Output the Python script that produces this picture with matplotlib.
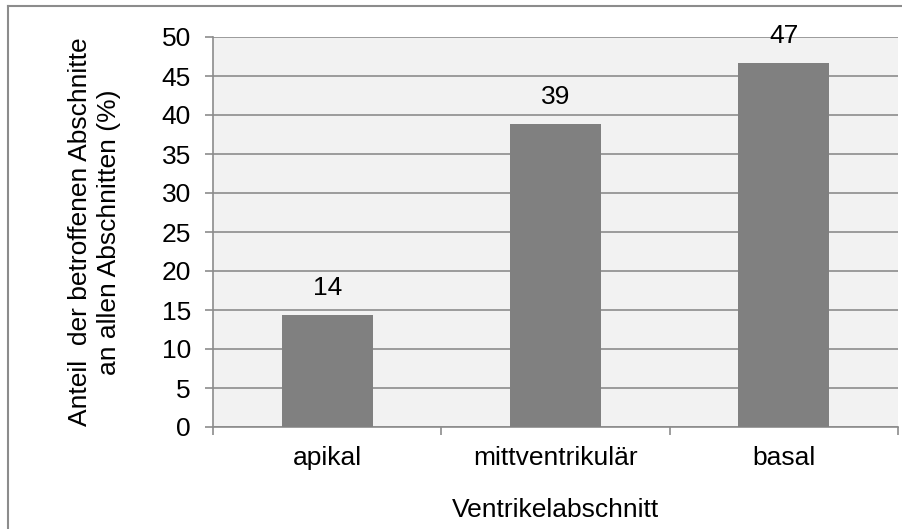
import matplotlib.pyplot as plt
from matplotlib.lines import Line2D

# Daten
kategorien = ["apikal", "mittventrikulär", "basal"]
anteile = [14.4, 38.9, 46.7]
beschriftung = ["14", "39", "47"]
y_ticks = [0, 5, 10, 15, 20, 25, 30, 35, 40, 45, 50]

plt.rcParams['font.family'] = ['Liberation Sans', 'DejaVu Sans']
fs = 19

fig = plt.figure(figsize=(9.03, 5.29), dpi=100)
ax = fig.add_axes([213/903, 1 - 427/529, (898 - 213)/903, 390/529])
ax.set_facecolor("#f2f2f2")

x = range(len(kategorien))
ax.bar(x, anteile, width=0.4, color="#808080", zorder=3)
for xi, v, txt in zip(x, anteile, beschriftung):
    ax.annotate(txt, (xi, v), xytext=(0, 19), textcoords="offset points",
                ha="center", va="center", fontsize=fs, zorder=4)

ax.set_xlim(-0.5, 2.5)
ax.set_ylim(0, 50)
ax.set_yticks(y_ticks)
ax.yaxis.grid(True, color="#8c8c8c", linewidth=1.2, zorder=0)
ax.set_axisbelow(True)

# Kategorie-Trennstriche an der x-Achse
ax.set_xticks([-0.5, 0.5, 1.5, 2.5])
ax.set_xticklabels([])
ax.set_xticks(list(x), minor=True)
ax.set_xticklabels(kategorien, minor=True, fontsize=fs)
ax.tick_params(axis="x", which="major", direction="out", length=6, color="#8c8c8c", width=1.2)
ax.tick_params(axis="x", which="minor", length=0, pad=14)
ax.tick_params(axis="y", direction="out", length=6, color="#8c8c8c", width=1.2,
               labelsize=fs, pad=10)

for s in ["top", "right"]:
    ax.spines[s].set_visible(False)
for s in ["left", "bottom"]:
    ax.spines[s].set_color("#8c8c8c")
    ax.spines[s].set_linewidth(1.2)

ax.set_ylabel("Anteil  der betroffenen Abschnitte\nan allen Abschnitten (%)",
              fontsize=fs, linespacing=1.25)
ax.yaxis.set_label_coords(-0.135, 0.5)
ax.set_xlabel("Ventrikelabschnitt", fontsize=fs)
ax.xaxis.set_label_coords(0.5, -0.183)

# Rahmen um das Diagramm
fig.add_artist(Line2D([8/903, 1], [1 - 6/529, 1 - 6/529], color="#8c8c8c", linewidth=1.5))
fig.add_artist(Line2D([8/903, 8/903], [0, 1 - 6/529], color="#8c8c8c", linewidth=1.5))

fig.savefig("out.png", dpi=100)
